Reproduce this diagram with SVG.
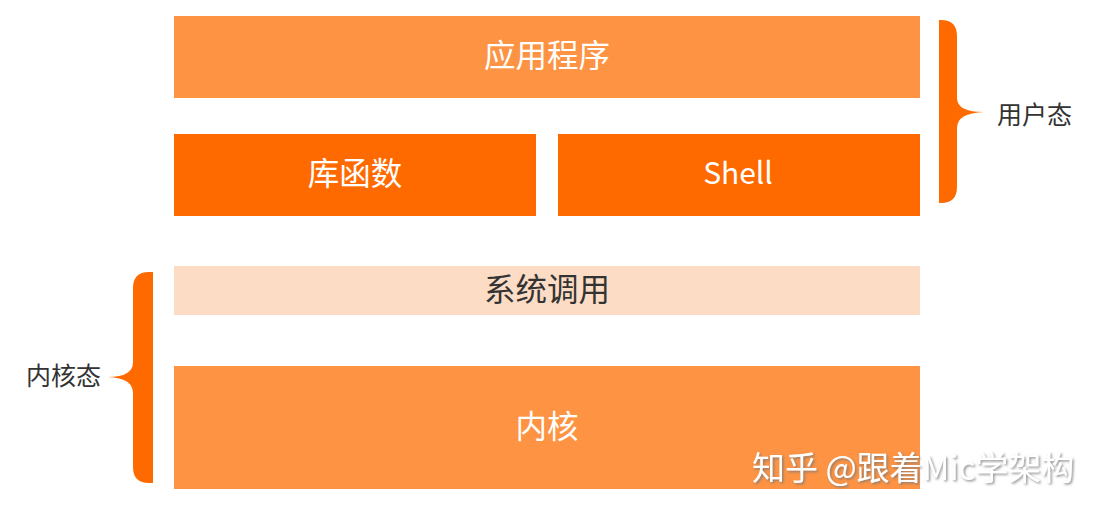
<svg xmlns="http://www.w3.org/2000/svg" width="1102" height="516" viewBox="0 0 1102 516">
<style>
.lbl{font-family:"Noto Sans CJK SC","Noto Sans",sans-serif;font-size:31.5px;text-anchor:middle;dominant-baseline:central}
.w{fill:#ffffff}
.d{fill:#333333}
.side{font-family:"Noto Sans CJK SC","Noto Sans",sans-serif;font-size:25px;fill:#333333;dominant-baseline:central}
.light{fill:#FD9343}
.dark{fill:#FF6A00}
.pale{fill:#FDDCC5}
.brace{fill:#FF6A00}
</style>
<defs>
<filter id="sh" x="-5%" y="-20%" width="110%" height="140%">
<feDropShadow dx="1.5" dy="1.5" stdDeviation="1" flood-color="#777" flood-opacity="0.8"/>
</filter>
</defs>
<rect width="1102" height="516" fill="#ffffff"/>
<g id="app"><rect class="light" x="174" y="16" width="746" height="82"/><text class="lbl w" x="547" y="53">应用程序</text></g>
<g id="lib"><rect class="dark" x="174" y="134" width="362" height="82"/><text class="lbl w" x="355" y="171">库函数</text></g>
<g id="shell"><rect class="dark" x="558" y="134" width="362" height="82"/><text class="lbl w" x="738" y="171" style="font-size:30px">Shell</text></g>
<g id="syscall"><rect class="pale" x="174" y="266" width="746" height="49"/><text class="lbl d" x="547" y="287">系统调用</text></g>
<g id="kernel"><rect class="light" x="174" y="366" width="746" height="123"/><text class="lbl w" x="547" y="424">内核</text></g>
<g id="connectors">
<path class="brace" d="M939,20 L941,20 Q957,20 957,36 L957,98 Q957,112 984,112 Q957,113 957,128 L957,187 Q957,203 941,203 L939,203 Z"/>
<path class="brace" d="M153,272 L149,272 Q133,272 133,288 L133,362 Q133,377 108,377 Q133,378 133,393 L133,467 Q133,483 149,483 L153,483 Z"/>
</g>
<g id="user-label"><text class="side" x="997" y="113">用户态</text></g>
<g id="kernel-label"><text class="side" x="26" y="374">内核态</text></g>
<g id="watermark" filter="url(#sh)"><text x="752" y="466" font-family="'Noto Sans CJK SC','Noto Sans',sans-serif" font-size="33" fill="#ffffff" dominant-baseline="central">知乎 @跟着Mic学架构</text></g>
</svg>
